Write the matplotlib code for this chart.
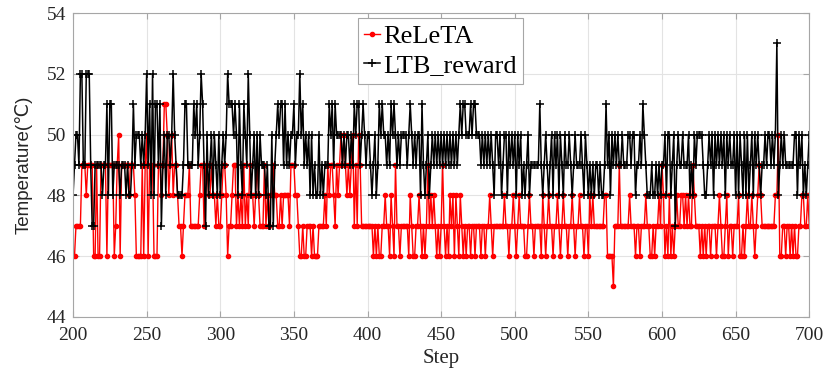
import numpy as np
import matplotlib
matplotlib.use("Agg")
import matplotlib.pyplot as plt

# temperature readings per step, 200..700
steps = np.arange(200, 701)

releta = [
    46, 46, 47, 47, 47, 47, 49, 49, 49, 48, 49, 49, 49, 49, 46, 46, 49, 46, 46, 49,
    49, 49, 49, 46, 49, 49, 49, 49, 46, 47, 49, 50, 46, 49, 49, 49, 49, 49, 48, 49,
    49, 49, 48,
    46, 46, 46, 46, 49, 46, 49, 50, 46, 49, 49, 49, 46, 46, 46, 49, 49, 48, 49, 51,
    51, 50, 48, 49, 50, 48, 49, 49, 48, 47, 47, 46, 47, 48, 48, 48, 49, 47, 47, 47,
    47, 47, 47, 48, 49, 49, 47, 49, 49, 48, 48,
    49, 48, 48, 47, 48, 47, 47, 48, 49, 49, 48, 46, 47, 47, 48, 49, 49, 47, 48, 47,
    48, 47, 49, 47, 48, 47, 49, 48, 48, 47, 48, 49, 48, 47, 47, 47, 49, 47, 48, 47,
    48, 48, 49, 48, 48, 47, 47, 48, 47, 48, 48,
    48, 48, 47, 49, 49, 49, 48, 48, 47, 46, 46, 47, 46, 46, 47, 47, 47, 46, 47, 46,
    46, 46, 47, 47, 47, 47, 48, 47, 49, 48, 49, 49, 48, 47, 49, 48, 49, 50, 49, 50,
    49, 48, 49, 48, 49, 50, 47, 49, 47, 50, 49,
    47, 47, 47, 47, 47, 47, 47, 47, 46, 47, 46, 47, 46, 46, 47, 47, 48, 47, 47, 46,
    48, 47, 46, 49, 47, 47, 46, 47, 47, 47, 47, 47, 46, 48, 47, 46, 46, 47, 47, 48,
    47, 46, 47, 46, 47, 49, 47, 48, 47, 48, 47,
    46, 47, 46, 47, 49, 47, 46, 47, 46, 48, 47, 48, 46, 48, 47, 46, 48, 47, 46, 47,
    46, 47, 47, 46, 47, 47, 46, 47, 47, 47, 46, 47, 47, 46, 47, 47, 48, 47, 46, 47,
    47, 47, 47, 47, 47, 47, 48, 47, 47, 46, 47,
    47, 48, 47, 46, 47, 48, 47, 47, 47, 46, 46, 47, 48, 47, 47, 46, 47, 47, 47, 47,
    46, 48, 47, 46, 47, 48, 47, 47, 46, 47, 47, 48, 47, 46, 47, 48, 47, 47, 46, 47,
    47, 48, 47, 46, 47, 47, 48, 47, 47, 46, 47,
    47, 46, 48, 47, 48, 47, 47, 47, 47, 47, 47, 47, 48, 48, 46, 46, 46, 46, 45, 47,
    47, 47, 49, 47, 47, 47, 47, 47, 47, 48, 47, 47, 47, 46, 47, 47, 46, 47, 47, 47,
    48, 47, 47, 46, 46, 47, 46, 47, 47, 48, 47,
    49, 48, 46, 47, 46, 48, 46, 47, 46, 47, 48, 47, 47, 48, 48, 47, 48, 47, 48, 47,
    47, 49, 48, 47, 47, 47, 46, 47, 46, 47, 46, 47, 47, 46, 47, 47, 47, 46, 47, 48,
    47, 46, 46, 47, 48, 46, 47, 47, 46, 47, 47,
    47, 48, 46, 46, 47, 46, 47, 48, 47, 47, 48, 47, 46, 47, 48, 49, 48, 47, 47, 47,
    47, 47, 47, 47, 47, 47, 48, 48, 50, 46, 46, 47, 47, 46, 47, 47, 46, 47, 46, 47,
    46, 46, 47, 47, 48, 48, 47, 47, 48, 47,
]

ltb_reward = [
    48, 49, 50, 50, 49, 52, 52, 49, 49, 52, 52, 52, 49, 47, 47, 49, 49, 49, 49, 49,
    48, 49, 49, 51, 48, 51, 51, 48, 49, 49, 49, 49, 48, 49, 49, 49, 48, 49, 48, 48,
    49, 51, 49,
    50, 50, 50, 49, 50, 49, 50, 52, 49, 51, 48, 52, 48, 51, 51, 49, 51, 47, 49, 50,
    48, 50, 50, 49, 50, 52, 50, 49, 48, 48, 48, 48, 49, 51, 51, 49, 49, 49, 49, 51,
    50, 51, 49, 50, 52, 51, 49, 47, 50, 48, 49,
    50, 48, 50, 49, 48, 50, 48, 49, 50, 49, 50, 52, 51, 51, 51, 50, 51, 50, 48, 51,
    49, 48, 51, 50, 49, 52, 50, 48, 49, 50, 48, 50, 48, 50, 49, 49, 49, 48, 49, 47,
    47, 50, 47, 49, 50, 51, 50, 51, 51, 49, 51,
    49, 50, 49, 50, 50, 51, 49, 50, 50, 52, 50, 51, 49, 50, 49, 50, 48, 50, 48, 49,
    48, 48, 50, 48, 49, 48, 49, 49, 49, 51, 50, 51, 49, 51, 50, 50, 50, 50, 49, 50,
    49, 50, 50, 49, 50, 49, 51, 50, 51, 51, 49,
    50, 51, 50, 49, 50, 50, 49, 48, 49, 50, 48, 49, 51, 50, 51, 50, 50, 49, 50, 49,
    51, 50, 51, 50, 49, 50, 49, 50, 50, 50, 50, 49, 50, 51, 50, 49, 50, 49, 50, 50,
    48, 51, 49, 48, 49, 50, 48, 49, 50, 49, 50,
    49, 50, 49, 50, 49, 50, 49, 50, 49, 50, 49, 50, 49, 50, 49, 50, 51, 50, 51, 51,
    50, 50, 50, 51, 50, 51, 51, 50, 50, 50, 49, 50, 49, 50, 49, 50, 49, 50, 49, 48,
    50, 50, 49, 50, 48, 49, 50, 50, 48, 50, 49,
    50, 49, 50, 48, 50, 49, 50, 48, 49, 48, 49, 50, 48, 49, 49, 49, 49, 49, 49, 51,
    49, 48, 49, 50, 49, 48, 49, 50, 48, 50, 49, 50, 48, 50, 49, 48, 50, 49, 49, 50,
    49, 48, 49, 50, 49, 49, 49, 50, 49, 48, 50,
    49, 48, 49, 48, 49, 48, 49, 49, 48, 49, 48, 48, 49, 51, 49, 50, 48, 50, 49, 50,
    49, 50, 49, 49, 50, 49, 49, 49, 50, 50, 49, 50, 50, 48, 49, 49, 50, 49, 51, 50,
    49, 48, 48, 48, 49, 48, 48, 49, 48, 49, 48,
    49, 49, 50, 48, 50, 50, 48, 49, 50, 47, 49, 50, 49, 49, 50, 49, 49, 49, 50, 48,
    49, 48, 50, 49, 50, 50, 50, 50, 49, 48, 48, 49, 50, 49, 50, 48, 50, 49, 50, 49,
    50, 49, 50, 48, 50, 49, 50, 49, 49, 50, 48,
    50, 48, 50, 49, 48, 50, 48, 50, 48, 49, 50, 48, 50, 49, 50, 49, 48, 49, 49, 50,
    49, 50, 50, 49, 50, 49, 50, 53, 48, 49, 50, 49, 50, 49, 49, 49, 49, 49, 49, 50,
    50, 48, 50, 49, 50, 48, 49, 48, 49, 50,
]

xticks = np.arange(200, 701, 50)
yticks = np.arange(44, 55, 2)

serif = ["Liberation Serif", "DejaVu Serif"]

fig = plt.figure(figsize=(8.3, 3.85), dpi=100)
ax = fig.add_axes([0.088, 0.177, 0.887, 0.789])

ax.plot(steps, releta, "-", color="red", marker=".", markersize=6, lw=1.0,
        label="ReLeTA")
ax.plot(steps, ltb_reward, "-", color="black", marker="+", markersize=6,
        markeredgewidth=1.1, lw=1.1, label="LTB_reward")

ax.set_xlim(200, 700)
ax.set_ylim(44, 54)
ax.set_xticks(xticks)
ax.set_yticks(yticks)
ax.grid(True, color="#e3e3e3", lw=0.8)
ax.set_axisbelow(True)
for s in ax.spines.values():
    s.set_color("#a6a6a6")
    s.set_linewidth(0.8)
ax.tick_params(direction="in", length=4, color="#a6a6a6", top=True, right=True,
               labelsize=14, labelcolor="#262626")
ax.tick_params(axis="x", pad=7)
ax.tick_params(axis="y", pad=5)
for lab in ax.get_xticklabels() + ax.get_yticklabels():
    lab.set_family(serif)

ax.set_xlabel("Step", family=serif, fontsize=15, color="#262626", labelpad=4)
ax.set_ylabel("Temperature(℃)", family=["Liberation Sans", "DejaVu Sans"],
              fontsize=13.5, color="#262626", labelpad=10)

leg = ax.legend(loc="upper left", bbox_to_anchor=(0.431, 0.953),
                bbox_transform=fig.transFigure, prop={"family": serif, "size": 19},
                handlelength=0.6, handletextpad=0.1, labelspacing=0.2,
                borderpad=0.25, borderaxespad=0, fancybox=False, framealpha=1)
leg.get_frame().set_edgecolor("#a6a6a6")
leg.get_frame().set_linewidth(0.8)

fig.savefig("out.png", dpi=100)
